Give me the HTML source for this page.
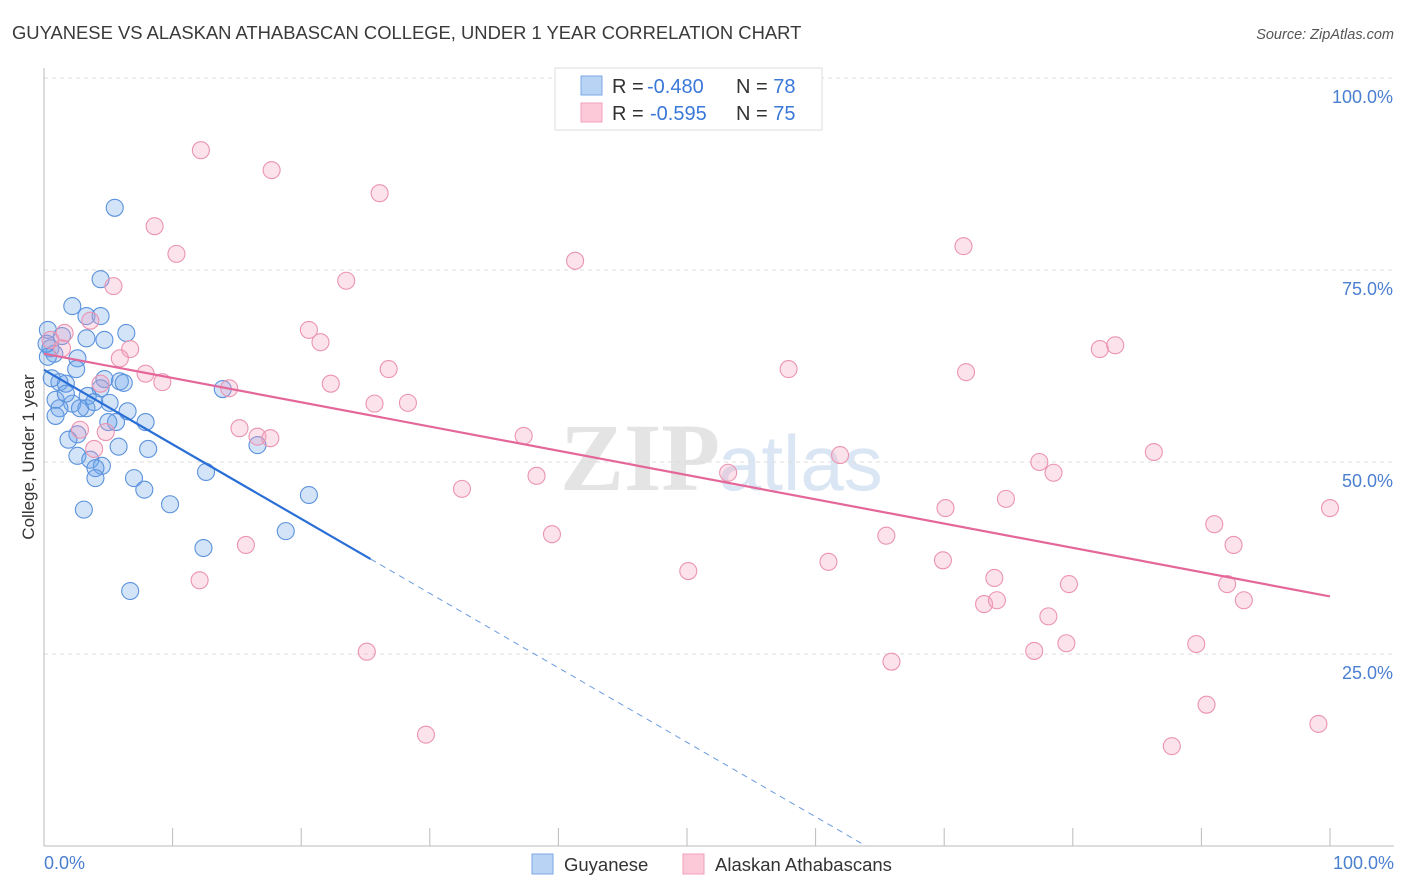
<!DOCTYPE html>
<html><head><meta charset="utf-8"><style>
body{margin:0;background:#fff;font-family:"Liberation Sans",sans-serif}
#wrap{position:relative;width:1406px;height:892px;overflow:hidden}
</style></head><body>
<div id="wrap">
<svg id="svg" width="1406" height="892">
<text x="12" y="39" font-size="18.4" fill="#3a3a3a">GUYANESE VS ALASKAN ATHABASCAN COLLEGE, UNDER 1 YEAR CORRELATION CHART</text>
<text x="1394" y="39" font-size="14.5" fill="#555" font-style="italic" text-anchor="end">Source: ZipAtlas.com</text>
<text x="720" y="490" font-size="96" fill="#e4e4e4" text-anchor="end" font-family="Liberation Serif" font-weight="bold">ZIP</text>
<text x="718" y="490" font-size="78" fill="#dbe6f4">atlas</text>
<g id="grid"></g>
<g id="axes"></g>
<g id="marks"></g>
<text transform="translate(34,457) rotate(-90)" font-size="17" fill="#333" text-anchor="middle">College, Under 1 year</text>
<text x="44" y="869" font-size="18" fill="#4a7fd0">0.0%</text>
<text x="1394" y="869" font-size="18" fill="#4a7fd0" text-anchor="end">100.0%</text>
<g>
<rect x="555" y="68" width="267" height="62" fill="#fff" stroke="#ddd"/>
<rect x="581" y="76" width="21" height="19" fill="#b9d3f5" stroke="#7aa7e6"/>
<rect x="581" y="103" width="21" height="19" fill="#fcc9d8" stroke="#f0a1bb"/>
<text x="612" y="93" font-size="20" fill="#333">R = <tspan fill="#3a78d8" x="647">-0.480</tspan><tspan x="736">N = </tspan><tspan fill="#3a78d8">78</tspan></text>
<text x="612" y="120" font-size="20" fill="#333">R = <tspan fill="#3a78d8" x="650">-0.595</tspan><tspan x="736">N = </tspan><tspan fill="#3a78d8">75</tspan></text>
</g>
<g>
<rect x="532" y="854" width="21" height="20" fill="#b9d3f5" stroke="#7aa7e6"/>
<text x="564" y="871" font-size="18.5" fill="#333">Guyanese</text>
<rect x="683" y="854" width="21" height="20" fill="#fcc9d8" stroke="#f0a1bb"/>
<text x="715" y="871" font-size="18.5" fill="#333">Alaskan Athabascans</text>
</g>
</svg>
</div>
<script>
const blueX=[5.5,4.4,2.2,3.3,4.4,0.3,6.4,1.4,3.3,4.7,0.5,0.8,2.6,0.3,2.5,5.9,4.7,1.7,4.4,3.4,0.9,2.2,1.2,3.3,5.1,6.5,7.9,5.6,0.9,2.6,1.9,8.1,5.8,2.6,3.6,4.5,4.0,4.0,7.0,7.8,12.6,9.8,3.1,12.4,6.7,18.8,20.6,16.6,13.9,1.2,0.6,0.2,1.7,2.8,3.9,6.2,5.0];
const blueY=[83.1,73.8,70.3,69.0,69.0,67.2,66.8,66.4,66.1,65.9,64.8,64.1,63.5,63.7,62.1,60.5,60.8,60.2,59.6,58.6,58.1,57.6,57.0,57.0,57.7,56.6,55.2,55.2,56.0,53.6,52.9,51.7,52.0,50.8,50.3,49.5,49.2,47.9,47.9,46.4,48.7,44.5,43.8,38.8,33.2,41.0,45.7,52.2,59.5,60.4,60.9,65.4,58.9,57.0,57.8,60.3,55.2];
const pinkX=[12.2,17.7,26.1,8.6,10.3,23.5,41.3,71.5,5.4,20.6,21.5,3.6,6.7,5.9,1.6,26.8,22.3,9.2,7.9,14.4,25.7,28.3,37.3,15.2,16.6,17.6,4.8,2.8,3.9,38.3,32.5,39.5,15.7,12.1,50.1,53.2,61.9,65.5,61.0,69.9,70.1,74.8,73.9,73.1,74.1,77.4,78.5,82.1,83.3,86.3,57.9,71.7,79.7,78.1,79.5,77.0,91.0,92.5,92.0,93.3,89.6,90.4,87.7,99.1,100.0,65.9,25.1,29.7,1.4,4.4,0.5];
const pinkY=[90.6,88.0,85.0,80.7,77.1,73.6,76.2,78.1,72.9,67.2,65.6,68.4,64.7,63.5,66.8,62.1,60.2,60.4,61.5,59.6,57.6,57.7,53.4,54.4,53.3,53.1,53.9,54.2,51.7,48.2,46.5,40.6,39.2,34.6,35.8,48.6,50.9,40.4,37.0,37.2,44.0,45.2,34.9,31.5,32.0,50.0,48.6,64.7,65.2,51.3,62.1,61.7,34.1,29.9,26.4,25.4,41.9,39.2,34.1,32.0,26.3,18.4,13.0,15.9,44.0,24.0,25.3,14.5,64.8,60.2,65.9];
const blueTrend=[62.0,-0.97];
const pinkTrend=[64.1,-0.316];
const yTicks=[25,50,75,100];
const yTickLabels=["25.0%","50.0%","75.0%","100.0%"];
const xTicks=[0,10,20,30,40,50,60,70,80,90,100];
const NS='http://www.w3.org/2000/svg';
const sx=v=>44+v*12.86, sy=v=>846-v*7.68;
function mk(tag,attrs,parent){const e=document.createElementNS(NS,tag);for(const k in attrs)e.setAttribute(k,attrs[k]);document.getElementById(parent).appendChild(e);return e;}
yTicks.forEach((t,i)=>{
  const g=mk('line',{x1:44,x2:1394,y1:sy(t),y2:sy(t),stroke:'#ddd','stroke-dasharray':'4,4'},'grid');
  
  
  const tx=mk('text',{x:1393,y:sy(t)+25,'font-size':18,fill:'#4a7fd0','text-anchor':'end'},'grid');
  tx.textContent=yTickLabels[i];
  
  
});
const ya=mk('line',{x1:44,x2:44,y1:68,y2:846,stroke:'#bbb'},'axes');


const xa=mk('line',{x1:44,x2:1394,y1:846,y2:846,stroke:'#bbb'},'axes');


xTicks.forEach(t=>{
  const l=mk('line',{x1:sx(t),x2:sx(t),y1:828,y2:846,stroke:'#bbb'},'axes');
  
  
});
blueX.forEach((x,i)=>{
  const c=mk('circle',{cx:sx(x),cy:sy(blueY[i]),r:8.5,fill:'rgba(110,165,235,0.3)',stroke:'#5b92dc','stroke-width':1.1},'marks');
  
  
});
pinkX.forEach((x,i)=>{
  const c=mk('circle',{cx:sx(x),cy:sy(pinkY[i]),r:8.5,fill:'rgba(245,160,190,0.3)',stroke:'#eb94b2','stroke-width':1.1},'marks');
  
  
});
const bEnd=25.4, bZero=-blueTrend[0]/blueTrend[1];
const bl=mk('line',{x1:sx(0),y1:sy(blueTrend[0]),x2:sx(bEnd),y2:sy(blueTrend[0]+blueTrend[1]*bEnd),stroke:'#2a6fd6','stroke-width':2.2},'marks');


const bd=mk('line',{x1:sx(bEnd),y1:sy(blueTrend[0]+blueTrend[1]*bEnd),x2:sx(bZero),y2:sy(0),stroke:'#6a9be0','stroke-width':1,'stroke-dasharray':'6,5'},'marks');


const pl=mk('line',{x1:sx(0),y1:sy(pinkTrend[0]),x2:sx(100),y2:sy(pinkTrend[0]+pinkTrend[1]*100),stroke:'#e4679a','stroke-width':2.2},'marks');


</script>
</body></html>
